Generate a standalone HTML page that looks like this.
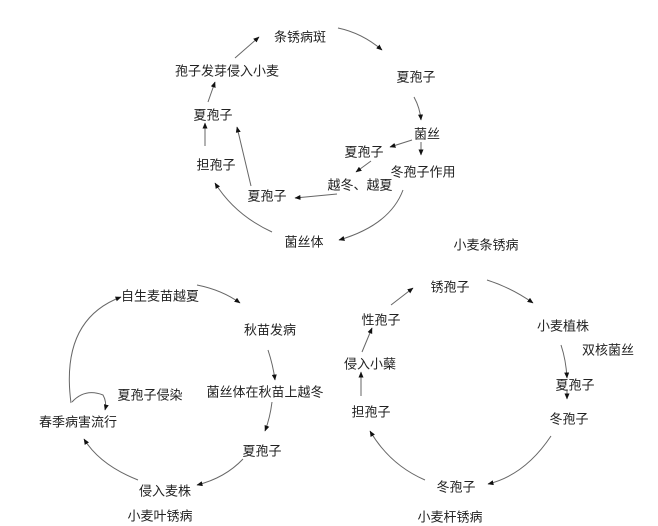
<!DOCTYPE html>
<html><head><meta charset="utf-8"><style>
html,body{margin:0;padding:0;background:#fff;}
svg{display:block}
text{font-family:"Liberation Sans","Noto Sans CJK SC",sans-serif;font-size:13px;fill:#222;text-anchor:middle;dominant-baseline:middle}
path,line{stroke:#666;stroke-width:1;fill:none}
</style></head><body>
<svg width="658" height="526" viewBox="0 0 658 526" xmlns="http://www.w3.org/2000/svg">
<defs><marker id="a" markerWidth="6" markerHeight="5" refX="5.5" refY="2.5" orient="auto" markerUnits="userSpaceOnUse"><path d="M0,0 L6,2.5 L0,5 z" style="fill:#111;stroke:none"/></marker></defs>
<text x="300" y="38">条锈病斑</text>
<text x="416" y="78">夏孢子</text>
<text x="427" y="135">菌丝</text>
<text x="364" y="153">夏孢子</text>
<text x="423" y="173">冬孢子作用</text>
<text x="360" y="186">越冬、越夏</text>
<text x="267" y="197">夏孢子</text>
<text x="216" y="166">担孢子</text>
<text x="213" y="116">夏孢子</text>
<text x="227" y="72">孢子发芽侵入小麦</text>
<text x="304" y="243">菌丝体</text>
<text x="486" y="246">小麦条锈病</text>
<path d="M338,28 Q362,33 382,50" marker-end="url(#a)"/>
<path d="M414,97 Q420,108 421,120" marker-end="url(#a)"/>
<line x1="421" y1="142" x2="421" y2="155" marker-end="url(#a)"/>
<line x1="412" y1="140" x2="390" y2="147" marker-end="url(#a)"/>
<line x1="371" y1="161" x2="356" y2="172" marker-end="url(#a)"/>
<path d="M403,190 Q390,225 339,240" marker-end="url(#a)"/>
<line x1="337" y1="194" x2="295" y2="198" marker-end="url(#a)"/>
<line x1="251" y1="186" x2="237" y2="127" marker-end="url(#a)"/>
<path d="M272,232 Q235,215 215,183" marker-end="url(#a)"/>
<line x1="205" y1="146" x2="205" y2="123" marker-end="url(#a)"/>
<line x1="208" y1="102" x2="215" y2="82" marker-end="url(#a)"/>
<line x1="235" y1="58" x2="259" y2="37" marker-end="url(#a)"/>
<text x="160" y="297">自生麦苗越夏</text>
<text x="270" y="331">秋苗发病</text>
<text x="265" y="393">菌丝体在秋苗上越冬</text>
<text x="262" y="452">夏孢子</text>
<text x="165" y="492">侵入麦株</text>
<text x="78" y="423">春季病害流行</text>
<text x="150" y="396">夏孢子侵染</text>
<text x="160" y="517">小麦叶锈病</text>
<path d="M197,285 Q222,290 240,303" marker-end="url(#a)"/>
<path d="M268,350 Q273,365 275,380" marker-end="url(#a)"/>
<path d="M272,402 Q270,418 265,431" marker-end="url(#a)"/>
<path d="M243,459 Q225,478 197,485" marker-end="url(#a)"/>
<path d="M138,480 Q100,465 84,439" marker-end="url(#a)"/>
<path d="M71,403 Q60,320 121,297" marker-end="url(#a)"/>
<path d="M72,402 Q85,388 103,395 Q107,402 105,410" marker-end="url(#a)"/>
<text x="450" y="288">锈孢子</text>
<text x="563" y="327">小麦植株</text>
<text x="608" y="351">双核菌丝</text>
<text x="575" y="386">夏孢子</text>
<text x="569" y="420">冬孢子</text>
<text x="456" y="488">冬孢子</text>
<text x="371" y="413">担孢子</text>
<text x="370" y="365">侵入小蘖</text>
<text x="381" y="321">性孢子</text>
<text x="450" y="518">小麦杆锈病</text>
<path d="M487,280 Q512,288 533,303" marker-end="url(#a)"/>
<path d="M561,345 Q566,360 567,378" marker-end="url(#a)"/>
<line x1="567" y1="389" x2="567" y2="399" marker-end="url(#a)"/>
<path d="M551,436 Q525,475 488,484" marker-end="url(#a)"/>
<path d="M425,480 Q390,465 370,431" marker-end="url(#a)"/>
<line x1="361" y1="396" x2="361" y2="372" marker-end="url(#a)"/>
<line x1="362" y1="352" x2="372" y2="328" marker-end="url(#a)"/>
<line x1="391" y1="305" x2="413" y2="288" marker-end="url(#a)"/>
</svg>
</body></html>
